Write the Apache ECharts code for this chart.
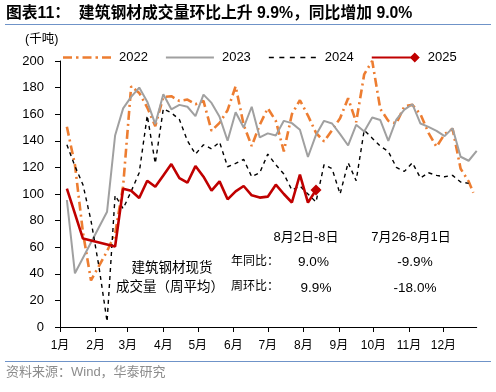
<!DOCTYPE html>
<html><head><meta charset="utf-8">
<script src="https://cdn.jsdelivr.net/npm/echarts@6/dist/echarts.min.js"></script>
<style>html,body{margin:0;padding:0;background:#fff}#c{width:496px;height:392px}</style>
</head><body><div id="c"></div>
<script>
// weekly x positions (month-day, plotted on a common calendar year)
const weeks = ['01-07','01-14','01-21','01-28','02-04','02-11','02-18','02-25',
  '03-04','03-11','03-18','03-25','04-01','04-08','04-15','04-22','04-29',
  '05-06','05-13','05-20','05-27','06-03','06-10','06-17','06-24',
  '07-01','07-08','07-15','07-22','07-29','08-05','08-12','08-19','08-26',
  '09-02','09-09','09-16','09-23','09-30','10-07','10-14','10-21','10-28',
  '11-04','11-11','11-18','11-25','12-02','12-09','12-16','12-23','12-30'];
const dates2022 = weeks.slice(0, 51).concat(['12-27']);
const monthLabels = ['1月','2月','3月','4月','5月','6月','7月','8月','9月','10月','11月','12月'];
const seriesNames = ['2022','2023','2024','2025'];
// weekly average volume (千吨)
const v2022 = [150.5,122,71,35,46,57,70,106,181,176,165,151,173,173.5,170,171,167.5,170,147.5,153.5,163,181,152,136,152,164.5,155,132,160,170.5,159,146,139.5,148,157,172,154,190,200,164,155,153,166,167,160,146,135.5,145,149,119,109.5,101];
const v2023 = [95.5,40.4,null,null,null,86.7,144,164.4,173,180,169.4,152.6,175,163.7,167,165.6,158.6,174.7,168.5,158,140,161.5,150,165.6,142.5,145.6,144,155,153.3,148.3,127.8,144.4,155,153,145,136.5,152,147,157.5,155.6,140,156,163.5,167.5,153,150.5,147.5,143.5,149.5,128,125,132.5];
const v2024 = [137,121,107,80,45,4,99,89,102,116,159,123,164,161,156,140,130,137,134,139,120.5,123,126,113,116,130,122,115,103,106,100,94,122,119,100,123.5,110,148,142,136,132,120,117,123.5,112,116,114,113,114,109,108,null];
const v2025 = [104,null,66.5,null,null,null,60.5,104,102.5,97,110,105.5,114,122.5,112,108.5,121,113,102.5,109.5,96,102,106,99,97.3,98,107,100,93.6,114.5,93.5,103];
const yTicks = [0,20,40,60,80,100,120,140,160,180,200];

const YEAR = '2025-';
function pairs(dates, vals) {
  const out = [];
  vals.forEach((v, i) => { if (v !== null && v !== undefined) out.push([YEAR + dates[i], v]); });
  return out;
}
const d2025 = pairs(weeks, v2025);
const last = d2025[d2025.length - 1];
d2025[d2025.length - 1] = { value: last, symbol: 'diamond', symbolSize: 11 };

// legend icons (48 x 10 box; anchor points keep the full box)
const BOX = 'M0,0 M48,10 ';
const icon2022 = 'path://' + BOX + 'M0,3.7 L9,3.7 L9,6.3 L0,6.3 Z M13,3.7 L15.5,3.7 L15.5,6.3 L13,6.3 Z M19.5,3.7 L28.5,3.7 L28.5,6.3 L19.5,6.3 Z M32.5,3.7 L35,3.7 L35,6.3 L32.5,6.3 Z M39,3.7 L48,3.7 L48,6.3 L39,6.3 Z';
const icon2023 = 'path://' + BOX + 'M0,4 L48,4 L48,6 L0,6 Z';
const icon2024 = 'path://' + BOX + 'M0,4.3 L5,4.3 L5,5.7 L0,5.7 Z M10.5,4.3 L15.5,4.3 L15.5,5.7 L10.5,5.7 Z M21,4.3 L26,4.3 L26,5.7 L21,5.7 Z M31.5,4.3 L36.5,4.3 L36.5,5.7 L31.5,5.7 Z M42,4.3 L47,4.3 L47,5.7 L42,5.7 Z';
const icon2025 = 'path://' + BOX + 'M0,3.9 L42,3.9 L42,6.1 L0,6.1 Z M43,0 L48,5 L43,10 L38,5 Z';

const chart = echarts.init(document.getElementById('c'), null, { renderer: 'canvas' });
const NUM = '"Liberation Sans", Arial, "Noto Sans CJK SC", sans-serif';
const CJK = '"Liberation Sans", "Noto Sans CJK SC", sans-serif';
chart.setOption({
  animation: false,
  backgroundColor: '#fff',
  grid: { left: 60, right: 19.3, top: 61, bottom: 65, containLabel: false },
  legend: {
    left: 58, top: 46,
    itemWidth: 48, itemHeight: 10, itemGap: 18,
    textStyle: { fontSize: 13, fontFamily: NUM, color: '#000', padding: [0, 0, 0, 3] },
    data: [
      { name: '2022', icon: icon2022 }, { name: '2023', icon: icon2023 },
      { name: '2024', icon: icon2024 }, { name: '2025', icon: icon2025 }
    ]
  },
  xAxis: {
    type: 'time',
    min: YEAR + '01-01', max: YEAR + '12-30',
    splitNumber: 12,
    minInterval: 28 * 86400000, maxInterval: 31 * 86400000,
    axisLine: { lineStyle: { color: '#000', width: 1 } },
    axisTick: { show: true, length: 5, inside: false, lineStyle: { color: '#000' } },
    splitLine: { show: false },
    axisLabel: {
      margin: 13, fontSize: 12, color: '#000', fontFamily: CJK,
      showMaxLabel: false,
      formatter: function (val) { return monthLabels[new Date(val).getMonth()]; }
    }
  },
  yAxis: {
    type: 'value', min: yTicks[0], max: yTicks[yTicks.length - 1], interval: 20,
    axisLine: { show: true, lineStyle: { color: '#000', width: 1 } },
    axisTick: { show: true, length: 5, lineStyle: { color: '#000' } },
    splitLine: { show: false },
    axisLabel: { margin: 16, fontSize: 13, color: '#000', fontFamily: NUM }
  },
  series: [
    { name: seriesNames[0], type: 'line', symbol: 'none', data: pairs(dates2022, v2022),
      lineStyle: { color: '#ED7D31', width: 2.6, type: [9, 4, 2, 4] }, itemStyle: { color: '#ED7D31' }, z: 2 },
    { name: seriesNames[1], type: 'line', symbol: 'none', data: pairs(weeks, v2023),
      lineStyle: { color: '#A0A0A0', width: 2 }, itemStyle: { color: '#A0A0A0' }, z: 3 },
    { name: seriesNames[2], type: 'line', symbol: 'none', data: pairs(weeks, v2024),
      lineStyle: { color: '#000', width: 1.4, type: [4, 4] }, itemStyle: { color: '#000' }, z: 4 },
    { name: seriesNames[3], type: 'line', symbol: 'none', showSymbol: true, data: d2025,
      lineStyle: { color: '#C00000', width: 2.6 }, itemStyle: { color: '#C00000' }, z: 5 }
  ],
  graphic: [
    { type: 'text', x: 6, y: 14, style: { text: '图表11：  建筑钢材成交量环比上升 9.9%，同比增加 9.0%', font: 'bold 15.8px ' + CJK, fill: '#000', align: 'left', verticalAlign: 'middle' } },
    { type: 'line', shape: { x1: 5, y1: 24.5, x2: 491, y2: 24.5 }, style: { stroke: '#6F93C8', lineWidth: 1 } },
    { type: 'text', x: 25, y: 40, style: { text: '(千吨)', font: '12.5px ' + CJK, fill: '#000', align: 'left', verticalAlign: 'middle' } },
    { type: 'text', x: 172, y: 268, style: { text: '建筑钢材现货', font: '13.5px ' + CJK, fill: '#000', align: 'center', verticalAlign: 'middle' } },
    { type: 'text', x: 170, y: 287, style: { text: '成交量（周平均）', font: '13.5px ' + CJK, fill: '#000', align: 'center', verticalAlign: 'middle' } },
    { type: 'text', x: 306, y: 237, style: { text: '8月2日-8日', font: '13px ' + CJK, fill: '#000', align: 'center', verticalAlign: 'middle' } },
    { type: 'text', x: 411, y: 237, style: { text: '7月26-8月1日', font: '13px ' + CJK, fill: '#000', align: 'center', verticalAlign: 'middle' } },
    { type: 'text', x: 231, y: 262, style: { text: '年同比：', font: '12px ' + CJK, fill: '#000', align: 'left', verticalAlign: 'middle' } },
    { type: 'text', x: 231, y: 287, style: { text: '周环比：', font: '12px ' + CJK, fill: '#000', align: 'left', verticalAlign: 'middle' } },
    { type: 'text', x: 313.5, y: 262, style: { text: '9.0%', font: '13.5px ' + NUM, fill: '#000', align: 'center', verticalAlign: 'middle' } },
    { type: 'text', x: 316, y: 288, style: { text: '9.9%', font: '13.5px ' + NUM, fill: '#000', align: 'center', verticalAlign: 'middle' } },
    { type: 'text', x: 415, y: 262, style: { text: '-9.9%', font: '13.5px ' + NUM, fill: '#000', align: 'center', verticalAlign: 'middle' } },
    { type: 'text', x: 415, y: 288, style: { text: '-18.0%', font: '13.5px ' + NUM, fill: '#000', align: 'center', verticalAlign: 'middle' } },
    { type: 'line', shape: { x1: 5, y1: 361.5, x2: 491, y2: 361.5 }, style: { stroke: '#6F93C8', lineWidth: 1 } },
    { type: 'text', x: 6, y: 372, style: { text: '资料来源：Wind，华泰研究', font: '13px ' + CJK, fill: '#8C8C8C', align: 'left', verticalAlign: 'middle' } }
  ]
});
</script></body></html>
